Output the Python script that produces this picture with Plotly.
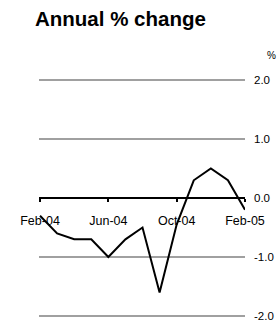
import plotly.graph_objects as go

months = ["Feb-04", "Mar-04", "Apr-04", "May-04", "Jun-04", "Jul-04", "Aug-04",
          "Sep-04", "Oct-04", "Nov-04", "Dec-04", "Jan-05", "Feb-05"]
values = [-0.3, -0.6, -0.7, -0.7, -1.0, -0.7, -0.5, -1.6, -0.45, 0.3, 0.5, 0.3, -0.2]
tick_labels = ["Feb-04", "Jun-04", "Oct-04", "Feb-05"]
tick_pos = [0, 4, 8, 12]
y_ticks = [-2, -1, 0, 1, 2]
y_tick_text = ["-2.0", "-1.0", "0.0", "1.0", "2.0"]

fig = go.Figure()
fig.add_trace(go.Scatter(x=list(range(len(months))), y=values, mode="lines",
                         line=dict(color="black", width=2), showlegend=False,
                         hoverinfo="skip"))

fig.update_layout(
    width=280, height=322,
    margin=dict(l=39, r=35, t=77, b=3),
    plot_bgcolor="white", paper_bgcolor="white",
    font=dict(family="Arial, Liberation Sans, sans-serif", size=12, color="black"),
    xaxis=dict(range=[-0.06, 12.0], tickvals=tick_pos, ticktext=tick_labels,
               showgrid=False, zeroline=False, showline=True, linecolor="black",
               linewidth=2, ticks="outside", ticklen=3, tickwidth=2, tickcolor="black",
               anchor="free", position=0.5, tickfont=dict(size=12.5),
               ticklabelstandoff=8, automargin=False, ticklabeloverflow="allow"),
    yaxis=dict(range=[-2.05, 2.05], tickvals=y_ticks, ticktext=y_tick_text,
               side="right", showgrid=True, gridcolor="#a0a0a0", gridwidth=2,
               zeroline=False, showline=False, ticks="", ticklabelstandoff=8,
               tickfont=dict(size=11.5), automargin=False, ticklabeloverflow="allow"),
    annotations=[
        dict(text="<b>Annual % change</b>", xref="paper", yref="paper",
             x=-0.03, y=1.0, xanchor="left", yanchor="bottom", yshift=45,
             showarrow=False, font=dict(size=20.5)),
        dict(text="%", xref="paper", yref="paper", x=1.13, y=1.0,
             xanchor="center", yanchor="bottom", yshift=14, showarrow=False,
             font=dict(size=10)),
    ],
)

fig.write_html("out.html", config={"displayModeBar": False},
               post_script="document.body.style.margin='0';")
